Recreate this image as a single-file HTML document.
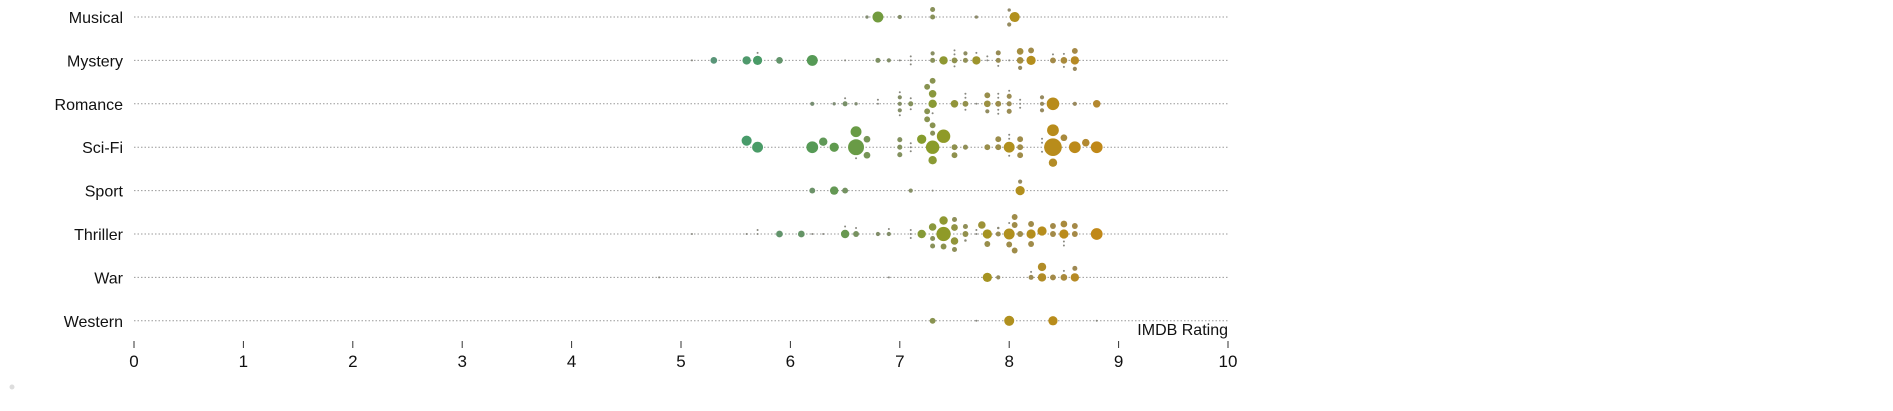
<!DOCTYPE html>
<html><head><meta charset="utf-8">
<style>
html,body{margin:0;padding:0;background:#fff;}
svg{display:block;font-family:"Liberation Sans",sans-serif;}
</style></head>
<body>
<svg id="chart" width="1893" height="411" viewBox="0 0 1893 411"></svg>
<script>
const genres = ["Musical","Mystery","Romance","Sci-Fi","Sport","Thriller","War","Western"];
const ticks = [0,1,2,3,4,5,6,7,8,9,10];
const musicalRatings = [6.8,8.05,7.3,7.3,6.7,7.0,7.7,8.0,8.0];
const musicalSizes   = [13,12,6,6,4,5,4,4,5];
const mysteryRatings = [6.2,5.7,5.6,8.2,7.4,7.7,8.6,5.3,5.9,8.1,8.1,8.5,7.5,8.2,8.6,8.4,7.6,7.9,7.9,7.6,7.3,7.3,6.8,6.9,8.1,8.6,5.1,5.7,6.5,7.0,7.1,7.1,7.1,7.5,7.5,7.5,7.7,7.8,7.8,7.9,8.0,8.4,8.5,8.5];
const mysterySizes   = [13,11,10,11,10,10,10,8,8,8,8,8,7,7,7,7,6,6,6,5,6,5,6,5,5,5,2,2,2,2,2,2,2,2,2,2,2,2,2,2,2,2,2,2];
const romanceRatings = [8.4,7.3,7.5,7.3,8.8,7.8,7.25,7.25,7.25,7.3,7.3,7.1,7.8,7.6,7.9,6.5,8.0,8.0,8.0,7.0,7.0,7.0,6.2,7.8,8.3,8.3,8.3,8.6,6.4,6.6,6.5,6.8,6.8,7.0,7.0,7.1,7.1,7.3,7.6,7.6,7.6,7.7,7.9,7.9,7.9,7.9,8.0,8.1,8.1,8.1];
const romanceSizes   = [15,10,9,9,9,8,7,7,7,7,7,6,7,7,7,6,6,6,6,5,5,5,5,5,5,5,5,5,4,4,2,2,2,2,2,2,2,2,2,2,2,2,2,2,2,2,2,2,2,2];
const scifiRatings   = [8.4,6.6,7.3,7.4,6.2,8.6,8.8,8.4,5.7,6.6,8.0,5.6,6.4,7.2,6.3,8.4,7.3,8.7,6.7,6.7,8.5,7.0,7.0,7.0,7.5,7.5,7.8,7.9,7.9,8.1,8.1,8.1,7.3,7.6,6.6,7.1,7.1,7.1,8.0,8.0,8.0,8.3,8.3,8.3];
const scifiSizes     = [21,19,16,16,14,14,14,14,13,13,13,12,11,11,10,10,10,9,8,8,8,6,6,6,7,7,7,7,7,7,7,7,6,6,2,2,2,2,2,2,2,2,2,2];
const sportRatings   = [8.1,6.4,6.2,6.5,7.1,8.1,7.3];
const sportSizes     = [11,10,7,7,5,5,2];
const thrillerRatings= [7.4,8.8,8.0,7.8,8.2,8.3,8.5,7.2,7.4,6.5,5.9,6.1,8.5,7.5,7.3,7.75,8.05,7.5,7.4,8.1,8.2,8.2,8.4,8.4,8.6,8.6,7.3,7.3,7.5,7.5,7.6,7.6,7.8,8.0,8.05,8.05,6.6,7.9,6.8,6.9,5.1,5.6,5.7,5.7,6.2,6.3,6.5,6.6,6.9,7.1,7.1,7.1,7.7,7.7,8.0,8.5,8.5,7.6,7.9];
const thrillerSizes  = [17,14,13,11,11,11,11,10,10,10,8,8,8,8,9,9,7,9,7,7,7,7,7,7,7,7,6,6,6,6,7,6,7,7,7,7,7,6,5,5,2,2,2,2,2,2,2,2,2,2,2,2,2,2,2,2,2,3,3];
const warRatings     = [7.8,8.3,8.3,8.6,8.5,8.4,8.6,8.2,7.9,8.5,8.2,4.8,6.9];
const warSizes       = [11,10,10,10,8,7,6,6,5,2,2,2,2];
const westernRatings = [8.0,8.4,7.3,7.7,8.8];
const westernSizes   = [12,11,7,2,2];

const rowRatings = [musicalRatings,mysteryRatings,romanceRatings,scifiRatings,sportRatings,thrillerRatings,warRatings,westernRatings];
const rowSizes = [musicalSizes,mysterySizes,romanceSizes,scifiSizes,sportSizes,thrillerSizes,warSizes,westernSizes];

const NS="http://www.w3.org/2000/svg";
const svg=document.getElementById('chart');
const X0=134, X1=1228, rowTop=17, rowStep=43.4;
const xScale=v=>X0+(X1-X0)*v/10;
const yScale=i=>rowTop+i*rowStep;
const rScale=s=>s*0.42;
function el(tag,attrs){const e=document.createElementNS(NS,tag);for(const k in attrs)e.setAttribute(k,attrs[k]);svg.appendChild(e);return e;}
function hex(c){return [parseInt(c.slice(1,3),16),parseInt(c.slice(3,5),16),parseInt(c.slice(5,7),16)];}
const stops=[[5.0,"#3a9c7e"],[6.2,"#569a56"],[7.3,"#8a9c2a"],[8.0,"#b0901e"],[8.8,"#c08818"]];
function colorFor(v,s){
  let a=stops[0],b=stops[stops.length-1];
  for(let i=0;i<stops.length-1;i++){if(v>=stops[i][0]&&v<=stops[i+1][0]){a=stops[i];b=stops[i+1];break;}}
  if(v<stops[0][0])b=a; if(v>stops[stops.length-1][0])a=b;
  const t=b[0]===a[0]?0:(v-a[0])/(b[0]-a[0]);
  const ca=hex(a[1]),cb=hex(b[1]);
  let c=ca.map((x,i)=>x+(cb[i]-x)*t);
  const g=[136,136,128];
  const m=Math.max(0,Math.min(1,(s-2)/9));
  c=c.map((x,i)=>Math.round(g[i]+(x-g[i])*m));
  return `rgb(${c[0]},${c[1]},${c[2]})`;
}

genres.forEach((g,i)=>{
  const y=yScale(i);
  const l=el('line',{x1:X0,x2:X1,y1:y,y2:y,stroke:'#999','stroke-width':1,'stroke-dasharray':'1.5,2'});
  
  
  const t=el('text',{x:123,y:y+6,'text-anchor':'end','font-size':16,fill:'#111'});
  t.textContent=g;
  
  
});
ticks.forEach(v=>{
  const x=xScale(v);
  const tk=el('line',{x1:x,x2:x,y1:341,y2:348,stroke:'#333','stroke-width':1});
  
  
  const t=el('text',{x:x,y:367,'text-anchor':'middle','font-size':17,fill:'#111'});
  t.textContent=v;
  
  
});
const at=el('text',{x:X1,y:335,'text-anchor':'end','font-size':16,fill:'#111'});
at.textContent='IMDB Rating';


const ld=el('circle',{cx:12,cy:387,r:2.5,fill:'#ddd'});



rowRatings.forEach((ratings,ri)=>{
  const sizes=rowSizes[ri];
  const cy0=yScale(ri);
  const placed=[];
  ratings.forEach((v,k)=>{
    const s=sizes[k];
    const r=rScale(s);
    const cx=xScale(v);
    let off=0,found=false;
    for(let step=0;step<400&&!found;step++){
      const cands=step===0?[0]:[-step*0.5,step*0.5];
      for(const o of cands){
        let ok=true;
        for(const p of placed){
          const dx=p.x-cx,dy=p.y-(cy0+o);
          if(Math.hypot(dx,dy)<p.r+r+2){ok=false;break;}
        }
        if(ok){off=o;found=true;break;}
      }
    }
    placed.push({x:cx,y:cy0+off,r:r});
    const c=el('circle',{cx:cx,cy:cy0+off,r:Math.max(r,1),fill:colorFor(v,s)});
    
    
  });
});
</script>
</body></html>
